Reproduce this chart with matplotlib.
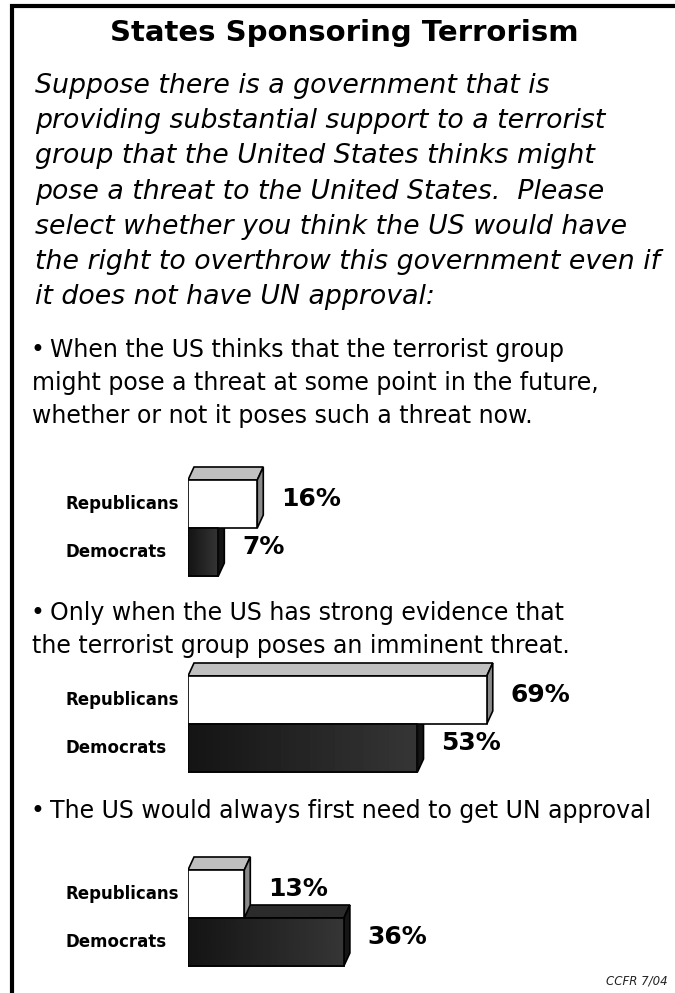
import numpy as np
import matplotlib.pyplot as plt
from matplotlib.patches import Polygon

W, H = 675, 993

TITLE = "States Sponsoring Terrorism"
QUESTION = [
    "Suppose there is a government that is",
    "providing substantial support to a terrorist",
    "group that the United States thinks might",
    "pose a threat to the United States.  Please",
    "select whether you think the US would have",
    "the right to overthrow this government even if",
    "it does not have UN approval:",
]
OPTIONS = [
    ["When the US thinks that the terrorist group",
     "might pose a threat at some point in the future,",
     "whether or not it poses such a threat now."],
    ["Only when the US has strong evidence that",
     "the terrorist group poses an imminent threat."],
    ["The US would always first need to get UN approval"],
]
PARTIES = ["Republicans", "Democrats"]
REPUBLICANS = [16, 69, 13]
DEMOCRATS = [7, 53, 36]
SOURCE = "CCFR 7/04"

FONT = ["DejaVu Sans"]

# pixel layout of the page
BAR_LEFT = 188
PX_PER_PCT = 4.33
BAR_H = 48
CHART_TOPS = [480, 676, 870]
DEPTH_X = 6 / PX_PER_PCT
DEPTH_Y = 13 / BAR_H


def bar_3d(ax, y, value, front, top, side, gradient=False):
    x0, x1 = 0, value
    y0, y1 = y - 0.5, y + 0.5
    top_face = Polygon([(x0, y1), (x1, y1), (x1 + DEPTH_X, y1 + DEPTH_Y),
                        (x0 + DEPTH_X, y1 + DEPTH_Y)],
                       facecolor=top, edgecolor="black", lw=1.2, zorder=3)
    side_face = Polygon([(x1, y0), (x1, y1), (x1 + DEPTH_X, y1 + DEPTH_Y),
                         (x1 + DEPTH_X, y0 + DEPTH_Y)],
                        facecolor=side, edgecolor="black", lw=1.2, zorder=3)
    ax.add_patch(top_face)
    ax.add_patch(side_face)
    bars = ax.barh([y], [value], height=1.0, left=0, color=front,
                   edgecolor="black", lw=1.2, zorder=4)
    if gradient:
        grad = np.linspace(0.08, 0.21, 64).reshape(1, -1)
        im = ax.imshow(grad, cmap="gray", vmin=0, vmax=1, aspect="auto",
                       extent=(x0, x1, y0, y1), zorder=4.5)
        im.set_clip_path(bars.patches[0])
        ax.barh([y], [value], height=1.0, left=0, facecolor="none",
                edgecolor="black", lw=1.2, zorder=5)


fig = plt.figure(figsize=(W / 100, H / 100), dpi=100)
page = fig.add_axes([0, 0, 1, 1])
page.set_xlim(0, W)
page.set_ylim(H, 0)
page.axis("off")

# frame
page.plot([10, W], [6, 6], color="black", lw=3, solid_capstyle="butt")
page.plot([12, 12], [4, H], color="black", lw=3, solid_capstyle="butt")

page.text(344, 41, TITLE, ha="center", va="baseline", fontsize=21,
          fontweight="bold", family=FONT)

for i, line in enumerate(QUESTION):
    page.text(35, 93 + i * 35.2, line, ha="left", va="baseline",
              fontsize=19.3, style="italic", family=FONT)

option_baselines = [357, 620, 818]
for opt, base in zip(OPTIONS, option_baselines):
    page.text(31, base, "\u2022", ha="left", va="baseline", fontsize=17,
              family=FONT)
    for j, line in enumerate(opt):
        x = 50 if j == 0 else 32
        page.text(x, base + j * 33, line, ha="left", va="baseline",
                  fontsize=17, family=FONT)

page.text(668, 984, SOURCE, ha="right", va="baseline", fontsize=8.5,
          style="italic", color="#222222", family=FONT)

for top_px, rep, dem in zip(CHART_TOPS, REPUBLICANS, DEMOCRATS):
    pad_top, pad_bot = 30, 15
    ax_w = W - BAR_LEFT
    bottom_px = top_px + 2 * BAR_H + pad_bot
    ax = fig.add_axes([BAR_LEFT / W, 1 - bottom_px / H, ax_w / W,
                       (2 * BAR_H + pad_top + pad_bot) / H])
    ax.set_xlim(0, ax_w / PX_PER_PCT)
    ax.set_ylim(-0.5 - pad_bot / BAR_H, 1.5 + pad_top / BAR_H)
    ax.axis("off")

    # Democrats first so the Republican bar sits on top of it
    bar_3d(ax, 0, dem, "#262626", "#2b2b2b", "#151515", gradient=True)
    bar_3d(ax, 1, rep, "white", "#c0c0c0", "#8a8a8a")

    for y, name, val in [(1, PARTIES[0], rep), (0, PARTIES[1], dem)]:
        ax.text(-28.2, y, name, ha="left", va="center", fontsize=12,
                fontweight="bold", family=FONT, clip_on=False)
        ax.text(val + 5.5, y + 0.1, f"{val}%", ha="left", va="center",
                fontsize=18, fontweight="bold", family=FONT, clip_on=False)

fig.savefig("out.png", dpi=100)
